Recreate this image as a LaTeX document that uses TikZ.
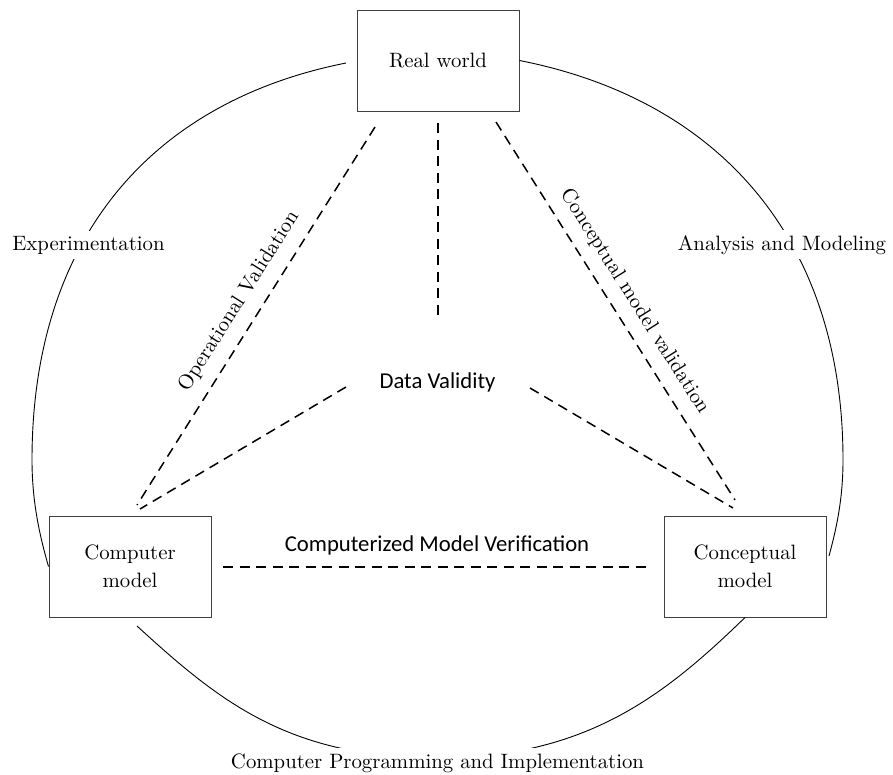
\documentclass[tikz,border=0pt]{standalone}
\usepackage{fontspec}
\newfontfamily\tnrfont{lmroman10-regular.otf}
\newfontfamily\calfont{Carlito}
\begin{document}
\begin{tikzpicture}[x=1pt,y=-1pt,
  box/.style={draw=black!75, line width=1pt, minimum width=162pt, minimum height=101pt, inner sep=0pt, align=center, font=\tnrfont\fontsize{20.8}{28}\selectfont},
  lbl/.style={font=\tnrfont\fontsize{20.8}{28}\selectfont, inner sep=0pt},
  cut/.style={lbl, fill=white, inner xsep=2pt, inner ysep=5pt},
  sans/.style={font=\calfont\fontsize{22.7}{28}\selectfont, inner sep=0pt},
  dline/.style={line width=1.5pt, dash pattern=on 10pt off 6.5pt},
  arcline/.style={line width=0.9pt, black}]
\useasboundingbox (0,0) rectangle (893,774);

% boxes
\node[box] (rw) at (438,60.5) {Real world};
\node[box] (cm) at (130,566.5) {Computer\\model};
\node[box] (cp) at (745,566.5) {Conceptual\\model};

% outer arcs
\coordinate (la) at (346,63);
\coordinate (lx) at (32,460);
\coordinate (rx) at (843,460);
\coordinate (re) at (829,556);
\coordinate (ba) at (137,626);
\coordinate (bx) at (437.5,758);
\draw[arcline] (la) .. controls (150,102) and (32,240) .. (lx)
                    .. controls (32,505) and (41,540) .. (cm.west);
\draw[arcline] (rw.east) .. controls (720,100) and (843,240) .. (rx)
                    .. controls (843,500) and (836,530) .. (re);
\draw[arcline] (ba) .. controls (218,700) and (287.5,758) .. (bx)
                    .. controls (587.5,758) and (666,694) .. (cp.south);

% arc labels
\node[cut, anchor=base] (exp) at (88.5,250) {Experimentation};
\node[cut, anchor=base] (ana) at (782,250) {Analysis and Modeling};
\node[cut, anchor=base] (cpi) at (437.5,768) {Computer Programming and Implementation};

% inner labels
\node[sans, anchor=base] (dv) at (437.5,388) {Data Validity};
\node[sans, anchor=base] (cmv) at (437,551) {Computerized Model Verification};
\node[lbl, rotate=57.8] (opv) at (239,301.5) {Operational Validation};
\node[lbl, rotate=-57.7] (cmvl) at (635,301.5) {Conceptual model validation};

% dashed connectors
\coordinate (o1) at (375,127); \coordinate (o2) at (137,505);
\coordinate (c1) at (496,122); \coordinate (c2) at (735,500);
\coordinate (v1) at (438,123); \coordinate (v2) at (438,318);
\coordinate (d1) at (346,387); \coordinate (d2) at (140,509);
\coordinate (d3) at (530,388); \coordinate (d4) at (733,508);
\coordinate (h1) at (223,567); \coordinate (h2) at (647,567);
\draw[dline] (o1) -- (o2);
\draw[dline] (c1) -- (c2);
\draw[dline] (v1) -- (v2);
\draw[dline] (d1) -- (d2);
\draw[dline] (d3) -- (d4);
\draw[dline] (h1) -- (h2);
\end{tikzpicture}
\end{document}
